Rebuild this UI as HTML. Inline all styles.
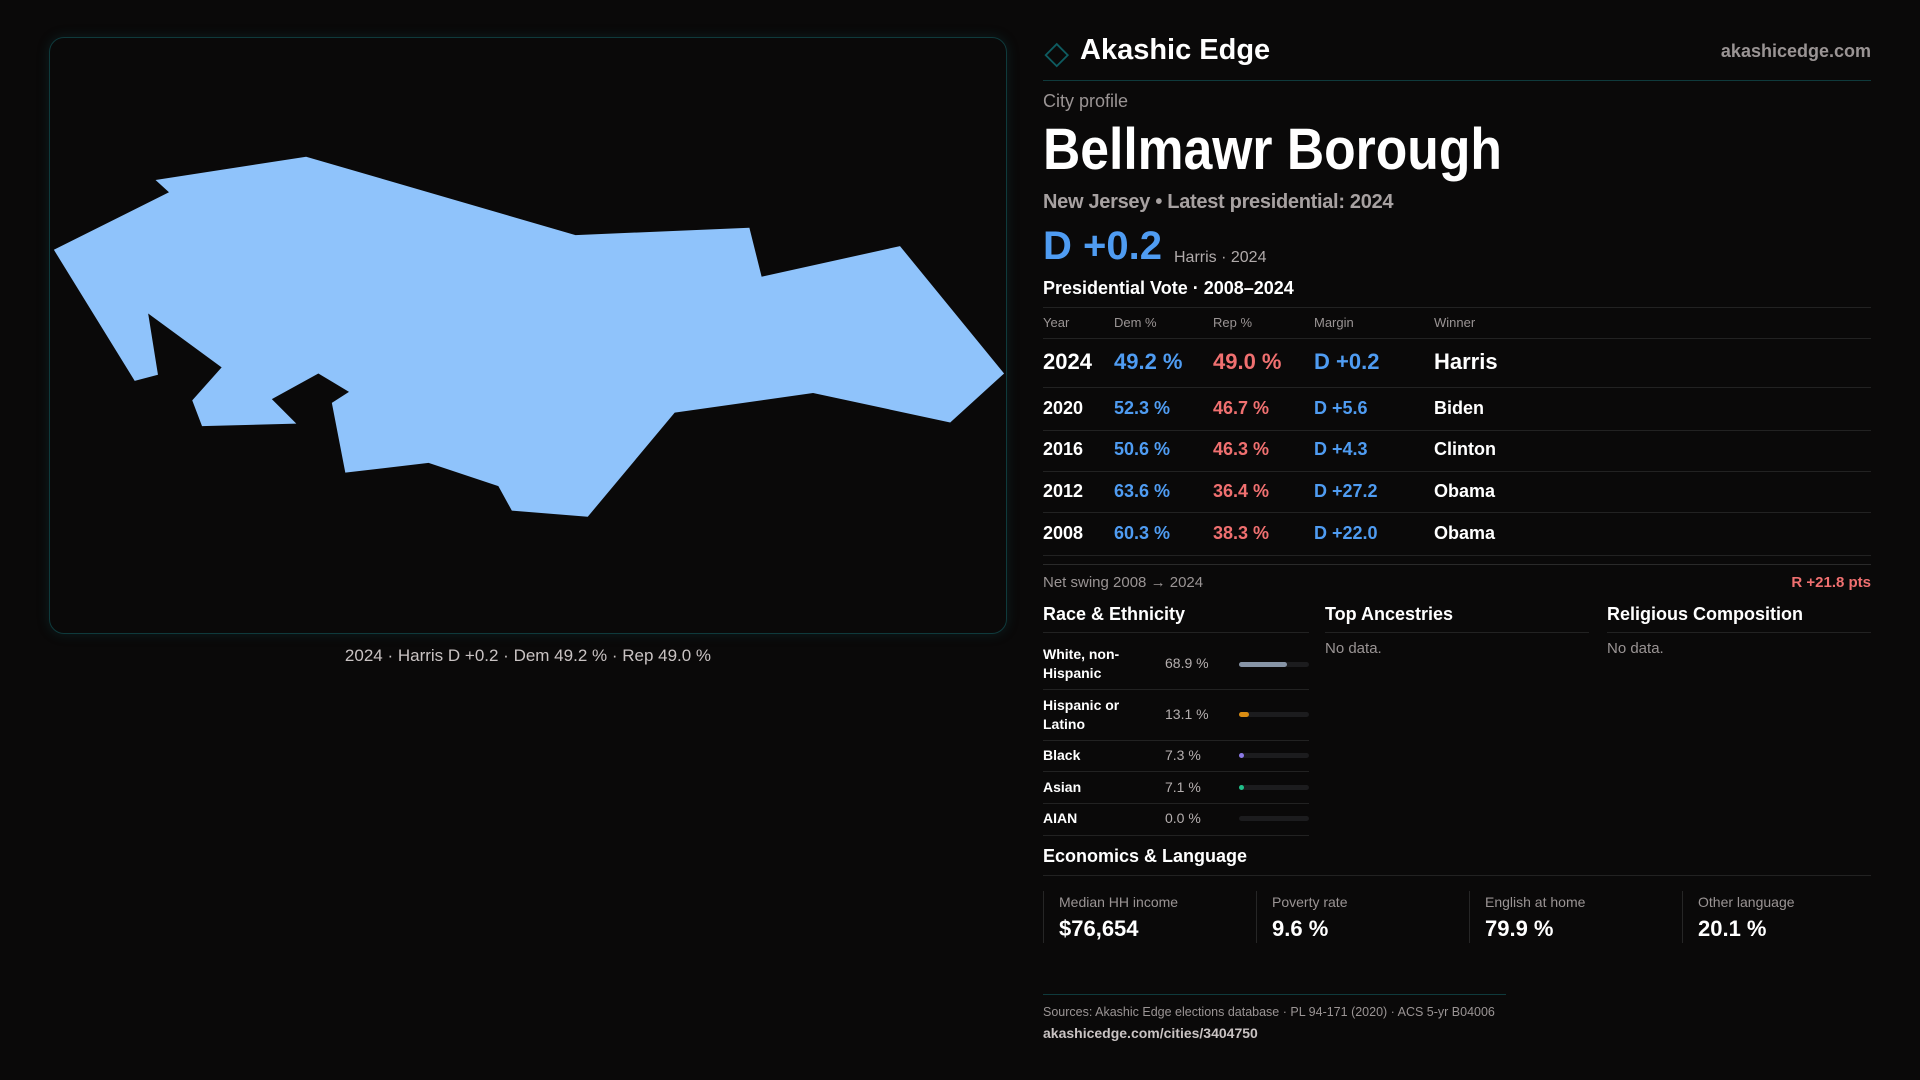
<!DOCTYPE html>
<html><head><meta charset="utf-8"><style>
*{margin:0;padding:0;box-sizing:border-box}
body{width:1920px;height:1080px;background:#0a0909;font-family:"Liberation Sans",sans-serif;color:#fff;position:relative;overflow:hidden}
.a{position:absolute;white-space:nowrap}
.g{color:#9a9494}
.b{color:#4f9cf2}.r{color:#f07070}
.hl{position:absolute;height:1px;background:#222}
.bar{position:absolute;left:1239px;width:70px;height:5px;border-radius:3px;background:#1c1c1e}
.bar i{position:absolute;left:0;top:0;height:5px;border-radius:3px}
.box{position:absolute;top:891px;height:52px;border-left:1px solid #262626;padding-left:15px}
.box .l{font-size:14px;color:#9a9494;margin-top:3px}
.box .v{font-size:22px;font-weight:bold;margin-top:6px}
</style></head><body>
<div class="a" style="left:49px;top:37px;width:958px;height:597px;border:1px solid #0f3a3c;border-radius:15px;box-shadow:0 0 12px rgba(20,90,95,.25)"></div>
<svg class="a" style="left:0;top:0" width="1920" height="1080" viewBox="0 0 1568 882">
<polygon fill="#8fc3fb" points="44,204 138,157 127,147 250,128 470,192 612,186 622,226 735,201 820,305 776,345 664,321 551,337 480,422 418,417 407,397 350,378 282,386 271,329 285,320 260,305 222,326 242,346 165,348 157,327 181,300 121,256 129,306 110,311"/>
<polygon points="863,36 872,45 863,54 854,45" fill="none" stroke="#0e5b60" stroke-width="1.5"/>
</svg>
<div class="a" style="left:0;width:1056px;top:646px;text-align:center;font-size:17px;color:#c9c3c3">2024 · Harris D +0.2 · Dem 49.2 % · Rep 49.0 %</div>

<div class="a" style="left:1080px;top:34px;font-size:29px;font-weight:bold">Akashic Edge</div>
<div class="a g" style="right:49px;top:41px;font-size:18px;font-weight:bold">akashicedge.com</div>
<div class="hl" style="left:1043px;width:828px;top:80px;background:#0f3a3c"></div>
<div class="a g" style="left:1043px;top:91px;font-size:18px">City profile</div>
<div class="a" style="left:1043px;top:116px;font-size:58px;font-weight:bold;transform:scaleX(0.89);transform-origin:left">Bellmawr Borough</div>
<div class="a g" style="left:1043px;top:191px;font-size:20px;font-weight:bold;color:#a7a1a1;letter-spacing:-0.3px">New Jersey • Latest presidential: 2024</div>
<div class="a b" style="left:1043px;top:224px;font-size:40px;font-weight:bold">D +0.2</div>
<div class="a g" style="left:1174px;top:249px;font-size:16px;color:#b0aaaa">Harris · 2024</div>
<div class="a" style="left:1043px;top:278px;font-size:18px;font-weight:bold">Presidential Vote · 2008–2024</div>
<div class="hl" style="left:1043px;width:828px;top:307px"></div>
<div class="a g" style="left:1043px;top:315px;font-size:13px">Year</div>
<div class="a g" style="left:1114px;top:315px;font-size:13px">Dem %</div>
<div class="a g" style="left:1213px;top:315px;font-size:13px">Rep %</div>
<div class="a g" style="left:1314px;top:315px;font-size:13px">Margin</div>
<div class="a g" style="left:1434px;top:315px;font-size:13px">Winner</div>
<div class="hl" style="left:1043px;width:828px;top:338px"></div>
<div class="a" style="left:1043px;top:349px;font-size:22px;font-weight:bold">2024</div>
<div class="a b" style="left:1114px;top:349px;font-size:22px;font-weight:bold">49.2 %</div>
<div class="a r" style="left:1213px;top:349px;font-size:22px;font-weight:bold">49.0 %</div>
<div class="a b" style="left:1314px;top:349px;font-size:22px;font-weight:bold">D +0.2</div>
<div class="a" style="left:1434px;top:349px;font-size:22px;font-weight:bold">Harris</div>
<div class="hl" style="left:1043px;width:828px;top:387px"></div>
<div style="position:absolute;left:1043px;top:397px;font-size:18px;font-weight:bold;line-height:22px">
<div class="a" style="top:0">2020</div><div class="a b" style="left:71px;top:0">52.3 %</div><div class="a r" style="left:170px;top:0">46.7 %</div><div class="a b" style="left:271px;top:0">D +5.6</div><div class="a" style="left:391px;top:0">Biden</div>
<div class="a" style="top:41px">2016</div><div class="a b" style="left:71px;top:41px">50.6 %</div><div class="a r" style="left:170px;top:41px">46.3 %</div><div class="a b" style="left:271px;top:41px">D +4.3</div><div class="a" style="left:391px;top:41px">Clinton</div>
<div class="a" style="top:83px">2012</div><div class="a b" style="left:71px;top:83px">63.6 %</div><div class="a r" style="left:170px;top:83px">36.4 %</div><div class="a b" style="left:271px;top:83px">D +27.2</div><div class="a" style="left:391px;top:83px">Obama</div>
<div class="a" style="top:125px">2008</div><div class="a b" style="left:71px;top:125px">60.3 %</div><div class="a r" style="left:170px;top:125px">38.3 %</div><div class="a b" style="left:271px;top:125px">D +22.0</div><div class="a" style="left:391px;top:125px">Obama</div>
</div>
<div class="hl" style="left:1043px;width:828px;top:430px"></div>
<div class="hl" style="left:1043px;width:828px;top:471px"></div>
<div class="hl" style="left:1043px;width:828px;top:512px"></div>
<div class="hl" style="left:1043px;width:828px;top:555px"></div>
<div class="hl" style="left:1043px;width:828px;top:564px;background:#2a2a2a"></div>
<div class="a g" style="left:1043px;top:574px;font-size:15px">Net swing 2008 → 2024</div>
<div class="a r" style="right:49px;top:574px;font-size:15px;font-weight:bold">R +21.8 pts</div>

<div class="a" style="left:1043px;top:604px;font-size:18px;font-weight:bold">Race &amp; Ethnicity</div>
<div class="a" style="left:1325px;top:604px;font-size:18px;font-weight:bold">Top Ancestries</div>
<div class="a" style="left:1607px;top:604px;font-size:18px;font-weight:bold">Religious Composition</div>
<div class="hl" style="left:1043px;width:266px;top:632px"></div>
<div class="hl" style="left:1325px;width:264px;top:632px"></div>
<div class="hl" style="left:1607px;width:264px;top:632px"></div>
<div class="a g" style="left:1325px;top:640px;font-size:15px">No data.</div>
<div class="a g" style="left:1607px;top:640px;font-size:15px">No data.</div>

<div class="a" style="left:1043px;top:645px;font-size:14px;font-weight:bold;line-height:19px">White, non-<br>Hispanic</div>
<div class="a g" style="left:1165px;top:655px;font-size:14px;color:#b5afaf">68.9 %</div>
<div class="bar" style="top:662px"><i style="width:48px;background:#8794a6"></i></div>
<div class="hl" style="left:1043px;width:266px;top:689px"></div>
<div class="a" style="left:1043px;top:696px;font-size:14px;font-weight:bold;line-height:19px">Hispanic or<br>Latino</div>
<div class="a g" style="left:1165px;top:706px;font-size:14px;color:#b5afaf">13.1 %</div>
<div class="bar" style="top:712px"><i style="width:10px;background:#d98c12"></i></div>
<div class="hl" style="left:1043px;width:266px;top:740px"></div>
<div class="a" style="left:1043px;top:747px;font-size:14px;font-weight:bold">Black</div>
<div class="a g" style="left:1165px;top:747px;font-size:14px;color:#b5afaf">7.3 %</div>
<div class="bar" style="top:753px"><i style="width:5px;background:#8c7ae6"></i></div>
<div class="hl" style="left:1043px;width:266px;top:771px"></div>
<div class="a" style="left:1043px;top:779px;font-size:14px;font-weight:bold">Asian</div>
<div class="a g" style="left:1165px;top:779px;font-size:14px;color:#b5afaf">7.1 %</div>
<div class="bar" style="top:785px"><i style="width:5px;background:#20c08a"></i></div>
<div class="hl" style="left:1043px;width:266px;top:803px"></div>
<div class="a" style="left:1043px;top:810px;font-size:14px;font-weight:bold">AIAN</div>
<div class="a g" style="left:1165px;top:810px;font-size:14px;color:#b5afaf">0.0 %</div>
<div class="bar" style="top:816px"></div>
<div class="hl" style="left:1043px;width:266px;top:835px"></div>

<div class="a" style="left:1043px;top:846px;font-size:18px;font-weight:bold">Economics &amp; Language</div>
<div class="hl" style="left:1043px;width:828px;top:875px"></div>
<div class="box" style="left:1043px"><div class="l">Median HH income</div><div class="v">$76,654</div></div>
<div class="box" style="left:1256px"><div class="l">Poverty rate</div><div class="v">9.6 %</div></div>
<div class="box" style="left:1469px"><div class="l">English at home</div><div class="v">79.9 %</div></div>
<div class="box" style="left:1682px"><div class="l">Other language</div><div class="v">20.1 %</div></div>

<div class="hl" style="left:1043px;width:463px;top:994px;background:#0f3a3c"></div>
<div class="a g" style="left:1043px;top:1005px;font-size:12.5px">Sources: Akashic Edge elections database · PL 94-171 (2020) · ACS 5-yr B04006</div>
<div class="a" style="left:1043px;top:1025px;font-size:14px;color:#c9c3c3;font-weight:bold">akashicedge.com/cities/3404750</div>
</body></html>
